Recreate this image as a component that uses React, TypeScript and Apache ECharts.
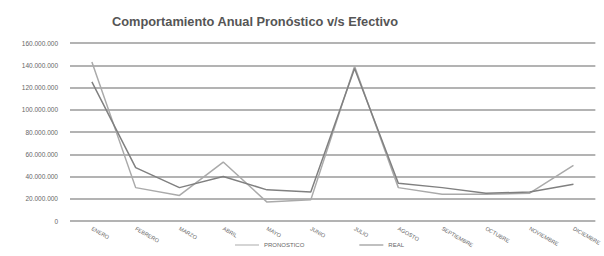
import React, { useEffect, useRef } from "react";
import * as echarts from "echarts";

const months = ["ENERO", "FEBRERO", "MARZO", "ABRIL", "MAYO", "JUNIO", "JULIO", "AGOSTO", "SEPTIEMBRE", "OCTUBRE", "NOVIEMBRE", "DICIEMBRE"];
const pronostico = [143000000, 30000000, 23000000, 53000000, 17000000, 19000000, 139000000, 30000000, 24000000, 24000000, 25000000, 50000000];
const real = [125000000, 48000000, 30000000, 40000000, 28000000, 26000000, 137000000, 34000000, 30000000, 25000000, 26000000, 33000000];
const seriesNames = ["PRONOSTICO", "REAL"];
const title = "Comportamiento Anual Pronóstico v/s Efectivo";

const fmt = (v: number) => v === 0 ? "0" : String(v).replace(/\B(?=(\d{3})+(?!\d))/g, ".");

export default function App() {
  const ref = useRef<HTMLDivElement>(null);
  useEffect(() => {
    if (!ref.current) return;
    const chart = echarts.init(ref.current, null, { renderer: "svg" });
    chart.setOption({
      animation: false,
      backgroundColor: "#fff",
      textStyle: { fontFamily: "Liberation Sans, Arial, sans-serif" },
      title: {
        text: title,
        left: 250,
        textAlign: "center",
        top: 10,
        textStyle: { fontSize: 12.8, fontWeight: "bold", color: "#555", fontFamily: "Liberation Sans, Arial, sans-serif" },
      },
      legend: {
        bottom: 3,
        left: 230,
        itemGap: 55,
        itemWidth: 24,
        itemHeight: 1,
        icon: "rect",
        textStyle: { fontSize: 6, color: "#666" },
        data: seriesNames,
      },
      grid: { left: 70, right: 8, top: 43, bottom: 35, containLabel: false },
      xAxis: {
        type: "category",
        data: months,
        boundaryGap: true,
        axisLine: { show: false },
        axisTick: { show: false },
        axisLabel: { rotate: -30, fontSize: 5.5, color: "#666", interval: 0, margin: 7 },
      },
      yAxis: {
        type: "value",
        min: 0,
        max: 160000000,
        interval: 20000000,
        axisLine: { show: false },
        axisTick: { show: false },
        axisLabel: { formatter: fmt, fontSize: 6.5, color: "#666", margin: 12 },
        splitLine: { lineStyle: { color: "#9a9a9a", width: 1.5 } },
      },
      series: [
        {
          name: seriesNames[0],
          type: "line",
          data: pronostico,
          symbol: "none",
          lineStyle: { color: "#aaaaaa", width: 1.5 },
          itemStyle: { color: "#aaaaaa" },
        },
        {
          name: seriesNames[1],
          type: "line",
          data: real,
          symbol: "none",
          lineStyle: { color: "#808080", width: 1.5 },
          itemStyle: { color: "#808080" },
        },
      ],
    });
    return () => chart.dispose();
  }, []);
  return <div ref={ref} style={{ width: 604, height: 256, position: "absolute", left: 0, top: 0 }} />;
}
